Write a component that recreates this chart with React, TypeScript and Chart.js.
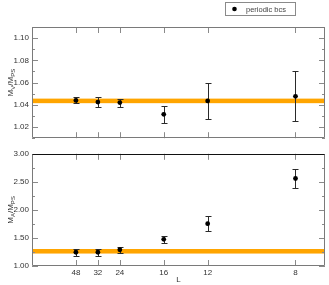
import React, { useEffect, useRef } from "react";
import { Chart, registerables } from "chart.js";
Chart.register(...registerables);

// ---- data ----
const latticeL = [48, 32, 24, 16, 12, 8];
const mvOverMps = [1.044, 1.0425, 1.042, 1.0315, 1.0435, 1.0477];
const mvErr = [0.0027, 0.0044, 0.0037, 0.0075, 0.016, 0.0224];
const maOverMps = [1.245, 1.245, 1.29, 1.475, 1.755, 2.56];
const maErr = [0.058, 0.064, 0.056, 0.06, 0.128, 0.17];
const mvBand = [1.0415, 1.0456];
const maBand = [1.222, 1.303];
const xTickL = [48, 32, 24, 16, 12, 8];
const topYTicks = [1.02, 1.04, 1.06, 1.08, 1.1];
const topYMinor = [1.01, 1.03, 1.05, 1.07, 1.09, 1.11];
const bottomYTicks = [1.0, 1.5, 2.0, 2.5, 3.0];
const bottomYMinor = [1.25, 1.75, 2.25, 2.75];
const legendLabel = "periodic bcs";

const FONT = "'Liberation Sans', Arial, sans-serif";
const X_MAX = 0.139;

type PanelCfg = {
  vals: number[];
  errs: number[];
  band: number[];
  major: number[];
  minor: number[];
  labelMain: string;
  labelSub: string;
  showLegend: boolean;
  showXTitle: boolean;
  topBorderColor: string;
};

function drawYLabel(ctx: CanvasRenderingContext2D, cx: number, cy: number, sub: string) {
  const parts: [string, boolean][] = [["M", false], [sub, true], ["/M", false], ["PS", true]];
  const big = `8px ${FONT}`;
  const small = `6px ${FONT}`;
  let total = 0;
  const widths = parts.map(([t, s]) => {
    ctx.font = s ? small : big;
    const w = ctx.measureText(t).width;
    total += w;
    return w;
  });
  ctx.save();
  ctx.translate(cx, cy);
  ctx.rotate(-Math.PI / 2);
  ctx.fillStyle = "#333";
  ctx.textBaseline = "alphabetic";
  ctx.textAlign = "left";
  let x = -total / 2;
  parts.forEach(([t, s], i) => {
    ctx.font = s ? small : big;
    ctx.fillText(t, x, s ? 5 : 3);
    x += widths[i];
  });
  ctx.restore();
}

function decorPlugin(cfg: PanelCfg) {
  return {
    id: "decor",
    beforeDatasetsDraw(chart: any) {
      const { ctx, chartArea: a, scales } = chart;
      const xs = scales.x;
      const ys = scales.y;
      ctx.save();
      ctx.fillStyle = "#FFA500";
      const yt = ys.getPixelForValue(cfg.band[1]);
      const yb = ys.getPixelForValue(cfg.band[0]);
      ctx.fillRect(a.left, yt, a.right - a.left, yb - yt);
      ctx.strokeStyle = "#2a2a2a";
      ctx.lineWidth = 1;
      cfg.vals.forEach((v, i) => {
        const px = Math.round(xs.getPixelForValue(1 / latticeL[i])) + 0.5;
        const pt = Math.round(ys.getPixelForValue(v + cfg.errs[i])) + 0.5;
        const pb = Math.round(ys.getPixelForValue(v - cfg.errs[i])) + 0.5;
        ctx.beginPath();
        ctx.moveTo(px, pt);
        ctx.lineTo(px, pb);
        ctx.moveTo(px - 3, pt);
        ctx.lineTo(px + 3, pt);
        ctx.moveTo(px - 3, pb);
        ctx.lineTo(px + 3, pb);
        ctx.stroke();
      });
      ctx.restore();
    },
    afterDraw(chart: any) {
      const { ctx, chartArea: a, scales } = chart;
      const xs = scales.x;
      const ys = scales.y;
      ctx.save();
      ctx.lineWidth = 1;
      // ticks
      ctx.strokeStyle = "#8a8a8a";
      ctx.beginPath();
      xTickL.forEach((L) => {
        const px = Math.round(xs.getPixelForValue(1 / L)) + 0.5;
        ctx.moveTo(px, a.top);
        ctx.lineTo(px, a.top + 6);
        ctx.moveTo(px, a.bottom);
        ctx.lineTo(px, a.bottom - 6);
      });
      cfg.major.forEach((v) => {
        const py = Math.round(ys.getPixelForValue(v)) + 0.5;
        ctx.moveTo(a.left, py);
        ctx.lineTo(a.left + 6, py);
        ctx.moveTo(a.right, py);
        ctx.lineTo(a.right - 6, py);
      });
      cfg.minor.forEach((v) => {
        if (v > ys.max || v < ys.min) return;
        const py = Math.round(ys.getPixelForValue(v)) + 0.5;
        ctx.moveTo(a.left, py);
        ctx.lineTo(a.left + 3, py);
        ctx.moveTo(a.right, py);
        ctx.lineTo(a.right - 3, py);
      });
      ctx.stroke();
      // frame
      const l = Math.round(a.left) + 0.5;
      const r = Math.round(a.right) - 0.5;
      const t = Math.round(a.top) + 0.5;
      const b = Math.round(a.bottom) - 0.5;
      ctx.strokeStyle = "#7a7a7a";
      ctx.beginPath();
      ctx.moveTo(l, t);
      ctx.lineTo(l, b);
      ctx.lineTo(r, b);
      ctx.lineTo(r, t);
      ctx.stroke();
      ctx.strokeStyle = cfg.topBorderColor;
      ctx.beginPath();
      ctx.moveTo(l, t);
      ctx.lineTo(r, t);
      ctx.stroke();
      // y label
      drawYLabel(ctx, 10, (a.top + a.bottom) / 2, cfg.labelSub);
      // x title
      if (cfg.showXTitle) {
        ctx.fillStyle = "#333";
        ctx.font = `8px ${FONT}`;
        ctx.textAlign = "center";
        ctx.textBaseline = "middle";
        ctx.fillText("L", (a.left + a.right) / 2, a.bottom + 13.5);
      }
      // legend
      if (cfg.showLegend) {
        ctx.strokeStyle = "#8a8a8a";
        ctx.strokeRect(225.5, 2.5, 70, 13);
        ctx.fillStyle = "#000";
        ctx.beginPath();
        ctx.arc(234.5, 9, 2.3, 0, Math.PI * 2);
        ctx.fill();
        ctx.fillStyle = "#444";
        ctx.font = `7.5px ${FONT}`;
        ctx.textAlign = "left";
        ctx.textBaseline = "middle";
        ctx.fillText(legendLabel, 246, 9.5);
      }
      ctx.restore();
    },
  };
}

function buildChart(
  canvas: HTMLCanvasElement,
  cfg: PanelCfg,
  yMin: number,
  yMax: number,
  padTop: number,
  xHeight: number,
  showXLabels: boolean
) {
  return new Chart(canvas, {
    type: "scatter",
    data: {
      datasets: [
        {
          data: cfg.vals.map((v, i) => ({ x: 1 / latticeL[i], y: v })),
          backgroundColor: "#000",
          borderColor: "#000",
          pointRadius: 2.4,
          pointBorderWidth: 0,
        },
      ],
    },
    options: {
      animation: false,
      responsive: false,
      devicePixelRatio: 1,
      layout: { padding: { top: padTop, right: 3, left: 0, bottom: 0 } },
      plugins: { legend: { display: false }, tooltip: { enabled: false } },
      scales: {
        x: {
          type: "linear",
          min: 0,
          max: X_MAX,
          grid: { display: false, drawTicks: false },
          border: { display: false },
          afterBuildTicks: (s: any) => {
            s.ticks = xTickL.map((L) => ({ value: 1 / L }));
          },
          afterFit: (s: any) => {
            s.height = xHeight;
          },
          ticks: {
            display: showXLabels,
            autoSkip: false,
            maxRotation: 0,
            padding: 2,
            color: "#333",
            font: { family: FONT, size: 8 },
            callback: (v: any) => String(Math.round(1 / Number(v))),
          },
        },
        y: {
          type: "linear",
          min: yMin,
          max: yMax,
          grid: { display: false, drawTicks: false },
          border: { display: false },
          afterBuildTicks: (s: any) => {
            s.ticks = cfg.major.map((v) => ({ value: v }));
          },
          afterFit: (s: any) => {
            s.width = 32;
          },
          ticks: {
            padding: 3,
            color: "#333",
            font: { family: FONT, size: 8 },
            callback: (v: any) => Number(v).toFixed(2),
          },
        },
      },
    },
    plugins: [decorPlugin(cfg)],
  } as any);
}

export default function App() {
  const topRef = useRef<HTMLCanvasElement>(null);
  const botRef = useRef<HTMLCanvasElement>(null);
  useEffect(() => {
    document.body.style.margin = "0";
    const c1 = buildChart(
      topRef.current!,
      {
        vals: mvOverMps,
        errs: mvErr,
        band: mvBand,
        major: topYTicks,
        minor: topYMinor,
        labelMain: "M",
        labelSub: "V",
        showLegend: true,
        showXTitle: false,
        topBorderColor: "#7a7a7a",
      },
      1.01,
      1.11,
      27,
      5,
      false
    );
    const c2 = buildChart(
      botRef.current!,
      {
        vals: maOverMps,
        errs: maErr,
        band: maBand,
        major: bottomYTicks,
        minor: bottomYMinor,
        labelMain: "M",
        labelSub: "A",
        showLegend: false,
        showXTitle: true,
        topBorderColor: "#111",
      },
      1.0,
      3.0,
      6,
      19,
      true
    );
    return () => {
      c1.destroy();
      c2.destroy();
    };
  }, []);
  return (
    <div style={{ position: "absolute", left: 0, top: 0, width: 329, height: 285, background: "#fff" }}>
      <canvas ref={topRef} width={329} height={146} style={{ display: "block", width: 329, height: 146 }} />
      <canvas ref={botRef} width={329} height={139} style={{ display: "block", width: 329, height: 139 }} />
    </div>
  );
}
